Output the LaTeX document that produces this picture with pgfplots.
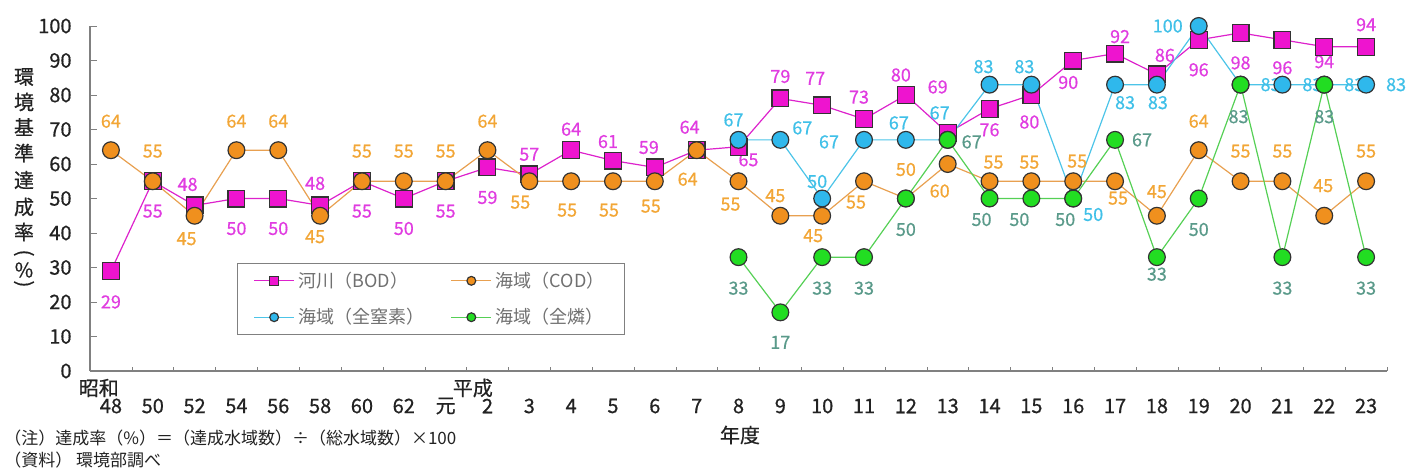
\documentclass[border=0pt]{standalone}
\usepackage{fontspec}
\setmainfont{Noto Sans CJK JP}
\newfontfamily\heavyfont{Noto Sans CJK JP}[FakeBold=0.6]
\usepackage{pgfplots}
\usepackage{pgfplotstable}
\pgfplotsset{compat=1.18}

\definecolor{bodfill}{HTML}{EE14CF}
\definecolor{bodline}{HTML}{DD22CC}
\definecolor{bodtext}{HTML}{E03CE0}
\definecolor{codfill}{HTML}{F0901E}
\definecolor{codline}{HTML}{E8A050}
\definecolor{codtext}{HTML}{F2A636}
\definecolor{tnfill}{HTML}{2FB8EC}
\definecolor{tnline}{HTML}{4CC4E8}
\definecolor{tntext}{HTML}{40C0E8}
\definecolor{tpfill}{HTML}{22DD22}
\definecolor{tpline}{HTML}{55D055}
\definecolor{tptext}{HTML}{5A9A8A}
\definecolor{axisgray}{HTML}{808080}
\definecolor{markedge}{HTML}{333333}
\definecolor{legendgray}{HTML}{707070}
\definecolor{tickblack}{HTML}{222222}

% x: year index (0 = 昭和48 ... 8 = 平成元 ... 30 = 平成23)
% dx, dy: offset of the value label from the point, in units of 0.5pt
\pgfplotstableread{
x y dx dy
0 29 0 -31
1 55 0 -30
2 48 -7 21
3 50 0 -30
4 50 0 -30
5 48 -5 22
6 55 0 -30
7 50 0 -30
8 55 0 -30
9 59 0 -30
10 57 0 20
11 64 0 21
12 61 -5 19
13 59 -6 20
14 64 -7 23
15 65 10 -13
16 79 0 22
17 77 -7 27
18 73 -5 22
19 80 -5 20
20 69 -10 46
21 76 0 -21
22 80 -2 -27
23 90 -5 -22
24 92 5 17
25 86 8 19
26 96 0 -30
27 98 0 -30
28 96 0 -28
29 94 0 -15
30 94 0 22
}\bodtab

\pgfplotstableread{
x y dx dy
0 64 0 29
1 55 0 30
2 45 -8 -23
3 64 0 29
4 64 0 29
5 45 -5 -21
6 55 0 30
7 55 0 30
8 55 0 30
9 64 0 29
10 55 -9 -21
11 55 -4 -29
12 55 -4 -29
13 55 -4 -25
14 64 -9 -29
15 55 -8 -23
16 45 -5 20
17 45 -9 -20
18 55 -8 -21
19 50 0 29
20 60 -8 -27
21 55 4 19
22 55 -2 19
23 55 4 20
24 55 3 -17
25 45 0 24
26 64 0 29
27 55 0 30
28 55 0 30
29 45 -1 30
30 55 0 30
}\codtab

\pgfplotstableread{
x y dx dy
15 67 -5 20
16 67 22 12
17 50 -5 17
18 67 -35 -2
19 67 -7 17
20 67 -8 27
21 83 -6 18
22 83 -7 18
23 50 20 -16
24 83 10 -18
25 83 1 -18
26 100 -31 0
27 83 30 0
28 83 30 0
29 83 30 0
30 83 30 0
}\tntab

\pgfplotstableread{
x y dx dy
15 33 0 -31
16 17 0 -30
17 33 0 -31
18 33 0 -31
19 50 0 -31
20 67 24 -2
21 50 -8 -21
22 50 -12 -21
23 50 -8 -21
24 67 27 0
25 33 0 -17
26 50 0 -31
27 83 -2 -32
28 33 0 -31
29 83 0 -32
30 33 0 -31
}\tptab

\pgfplotsset{
  vlabel/.style={draw=none, mark=none, forget plot,
    nodes near coords,
    visualization depends on={\thisrow{dx} \as \ldx},
    visualization depends on={\thisrow{dy} \as \ldy},
    every node near coord/.append style={anchor=center, inner sep=0pt,
      text=#1, font=\heavyfont\fontsize{9}{9}\selectfont,
      xshift=\ldx*0.5pt, yshift=\ldy*0.5pt}},
  series/.style n args={2}{#1, line width=0.6pt, mark size=4.2pt,
    mark options={fill=#2, draw=markedge, line width=0.6pt, solid}},
}

\begin{document}
\begin{tikzpicture}
\path[use as bounding box] (0,0) rectangle (704pt,236pt);
\begin{axis}[
  at={(45pt,50.5pt)}, anchor=south west,
  scale only axis, width=648.5pt, height=172.5pt,
  xmin=-0.5, xmax=30.5, ymin=0, ymax=100,
  clip=false,
  axis x line=bottom, axis y line=left,
  axis line style={axisgray, line width=0.8pt, -},
  tick align=inside,
  xtick={0,...,30},
  xticklabels={48,50,52,54,56,58,60,62,元,2,3,4,5,6,7,8,9,10,11,12,13,14,15,16,17,18,19,20,21,22,23},
  minor xtick={0.5,1.5,...,30.5},
  major x tick style={draw=none},
  minor tick length=2.2pt, major tick length=3.5pt,
  ytick={0,10,...,100},
  /pgf/number format/assume math mode=true,
  tick label style={font=\heavyfont\fontsize{10}{10}\selectfont, text=tickblack},
  xticklabel style={anchor=center, yshift=-17.5pt},
  yticklabel style={anchor=east, xshift=-5.7pt},
  legend style={at={(0.1133,0.313)}, anchor=north west, draw=axisgray,
    line width=0.6pt, text=legendgray, font=\fontsize{9}{9}\selectfont,
    inner xsep=8pt, inner ysep=2pt, row sep=5pt,
    /tikz/every even column/.append style={column sep=11pt}},
  legend columns=2, legend cell align=left,
  legend image code/.code={\draw[mark repeat=2,mark phase=2,#1,mark size=2.2pt]
    plot coordinates {(0pt,0pt) (10pt,0pt) (20pt,0pt)};},
]
% value labels first, so lines and markers sit on top of them
\addplot[vlabel=bodtext] table[x=x,y=y] {\bodtab};
\addplot[vlabel=codtext] table[x=x,y=y] {\codtab};
\addplot[vlabel=tntext] table[x=x,y=y] {\tntab};
\addplot[vlabel=tptext] table[x=x,y=y] {\tptab};

\addplot[series={bodline}{bodfill}, mark=square*] table[x=x,y=y] {\bodtab};
\addlegendentry{河川（BOD）}
\addplot[series={codline}{codfill}, mark=*] table[x=x,y=y] {\codtab};
\addlegendentry{海域（COD）}
\addplot[series={tnline}{tnfill}, mark=*] table[x=x,y=y] {\tntab};
\addlegendentry{海域（全窒素）}
\addplot[series={tpline}{tpfill}, mark=*] table[x=x,y=y] {\tptab};
\addlegendentry{海域（全燐）}

% era names above the first year of each era
\node[font=\heavyfont\fontsize{10}{10}\selectfont, text=tickblack, yshift=-8.5pt] at (axis cs:-0.29,0) {昭和};
\node[font=\heavyfont\fontsize{10}{10}\selectfont, text=tickblack, yshift=-8.5pt] at (axis cs:8.65,0) {平成};
\end{axis}

% vertical axis title, written top to bottom
\foreach \ch/\yy in {環/197.5, 境/185, 基/172.5, 準/159.5, 達/146, 成/132.5, 率/120}
  \node[font=\heavyfont\fontsize{10}{10}\selectfont, text=tickblack] at (12pt,\yy pt) {\ch};
\node[font=\heavyfont\fontsize{10}{10}\selectfont, text=tickblack, rotate=-90] at (12pt,109.5pt) {(};
\node[font=\heavyfont\fontsize{10}{10}\selectfont, text=tickblack] at (12pt,101pt) {\%};
\node[font=\heavyfont\fontsize{10}{10}\selectfont, text=tickblack, rotate=-90] at (12pt,94pt) {)};

\node[font=\heavyfont\fontsize{10}{10}\selectfont, text=tickblack] at (370pt,18.5pt) {年度};
\node[anchor=west, font=\fontsize{8.5}{8.5}\selectfont, text=tickblack, inner sep=0pt]
  at (2pt,17pt) {（注）達成率（\%）＝（達成水域数）÷（総水域数）×100};
\node[anchor=west, font=\fontsize{8.5}{8.5}\selectfont, text=tickblack, inner sep=0pt]
  at (2pt,6pt) {（資料）\ 環境部調べ};
\end{tikzpicture}
\end{document}
